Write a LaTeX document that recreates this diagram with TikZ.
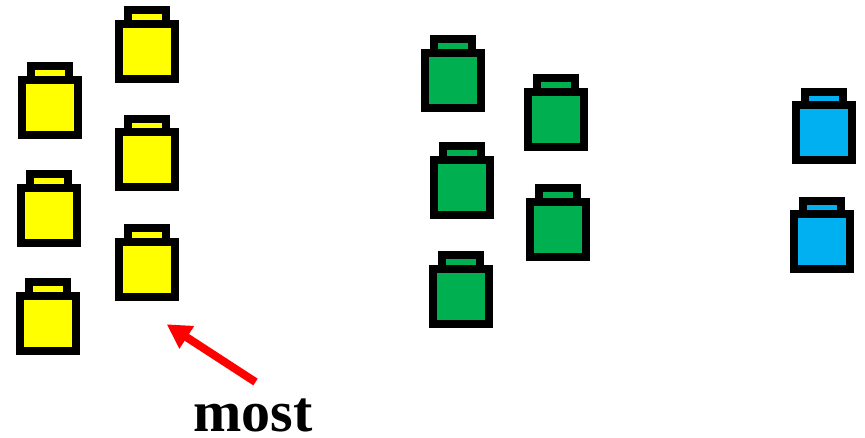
\documentclass[tikz,border=0pt]{standalone}
\usepackage{fontspec}
\setmainfont{Liberation Serif}
\usetikzlibrary{arrows.meta}
\definecolor{jarYellow}{RGB}{255,255,0}
\definecolor{jarGreen}{RGB}{0,176,80}
\definecolor{jarBlue}{RGB}{0,176,240}
\tikzset{
  jaredge/.style={draw=black,line width=6pt,miter limit=10},
  jar/.pic={
    %Shape: Rectangle (lid)
    \path[jaredge,pic actions] (-19,27.5) rectangle (19,41);
    %Shape: Rectangle (body)
    \path[jaredge,pic actions] (-28,-27.5) rectangle (28,27.5);
  },
  mostarrow/.style={draw=red,line width=6pt,-{Triangle[length=18pt,width=19pt]}},
  mostlabel/.style={inner sep=0pt,font=\bfseries\fontsize{43.5}{44}\selectfont,anchor=base},
}
\begin{document}
\begin{tikzpicture}[x=0.75pt,y=0.75pt,yscale=-1,xscale=1]
\useasboundingbox (0,0) rectangle (865,437);

%Yellow jars
\foreach \px/\py in {49.5/107,146.5/51,147/159.5,48.5/215,146.5/269,48/323}
  \path (\px,\py) pic[fill=jarYellow] {jar};
%Green jars
\foreach \px/\py in {453/80,556/119,462/187,558/229,461/296}
  \path (\px,\py) pic[fill=jarGreen] {jar};
%Blue jars
\foreach \px/\py in {824/132.5,821.7/241.8}
  \path (\px,\py) pic[fill=jarBlue] {jar};

% Text Node
\node[mostlabel] (most) at (253,431.5) {most};
%Straight Lines
\coordinate (tail) at (255.5,382);
\coordinate (tip) at (166.7,324.3);
\draw[mostarrow] (tail) -- (tip);
\end{tikzpicture}
\end{document}
